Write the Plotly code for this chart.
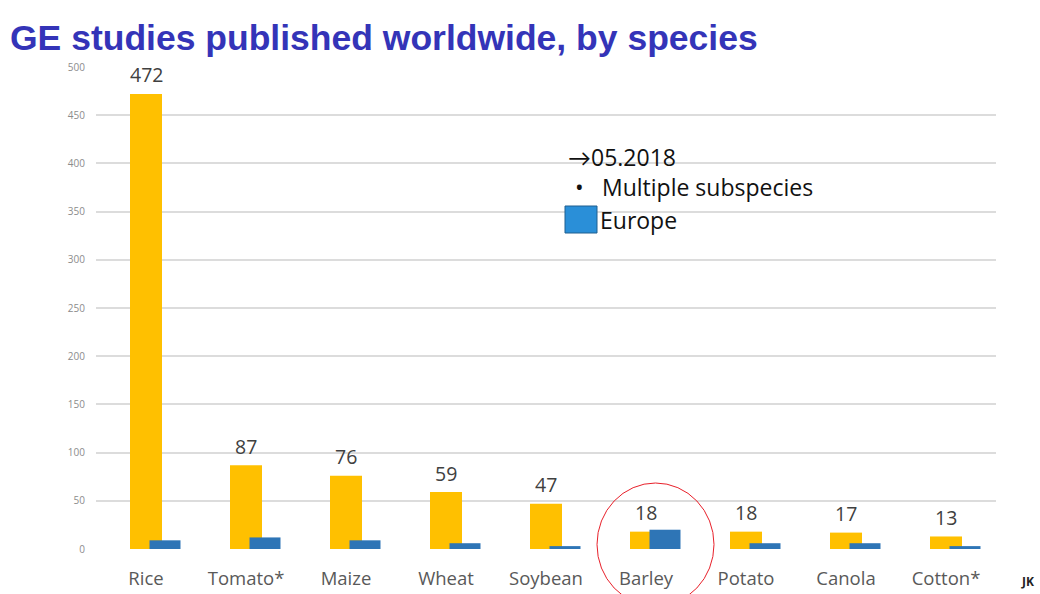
import plotly.graph_objects as go

# Genome-editing studies per crop species (worldwide vs. Europe)
species = ["Rice", "Tomato*", "Maize", "Wheat", "Soybean", "Barley", "Potato", "Canola", "Cotton*"]
worldwide = [472, 87, 76, 59, 47, 18, 18, 17, 13]
europe = [9, 12, 9, 6, 3, 20, 6, 6, 3]
y_ticks = [0, 50, 100, 150, 200, 250, 300, 350, 400, 450, 500]

ORANGE = "#FFC000"
BLUE = "#2E75B6"
LABEL_FONT = "Open Sans, Lato, sans-serif"

fig = go.Figure()
fig.add_trace(go.Bar(
    x=species, y=worldwide, name="Worldwide",
    marker=dict(color=ORANGE, line=dict(width=0)),
    width=0.32, offset=-0.16, hoverinfo="x+y",
))
fig.add_trace(go.Bar(
    x=species, y=europe, name="Europe",
    marker=dict(color=BLUE, line=dict(width=0)),
    width=0.31, offset=0.035, hoverinfo="x+y",
))

# value labels above the worldwide bars
for sp, v in zip(species, worldwide):
    fig.add_annotation(
        x=sp, y=v, text=str(v), showarrow=False,
        xref="x", yref="y", yanchor="middle", yshift=19,
        font=dict(family=LABEL_FONT, size=19.5, color="#404040"),
    )

# key text block
key_font = dict(family=LABEL_FONT, size=23, color="#111111")
fig.add_annotation(x=566, y=157, xref="paper", yref="paper", text="\u219205.2018",
                   showarrow=False, xanchor="left", yanchor="middle", font=key_font)
fig.add_annotation(x=573, y=187, xref="paper", yref="paper", text="\u2022",
                   showarrow=False, xanchor="left", yanchor="middle", font=key_font)
fig.add_annotation(x=600, y=187, xref="paper", yref="paper", text="Multiple subspecies",
                   showarrow=False, xanchor="left", yanchor="middle", font=key_font)
fig.add_annotation(x=598, y=220, xref="paper", yref="paper", text="Europe",
                   showarrow=False, xanchor="left", yanchor="middle", font=key_font)

fig.add_annotation(x=1027, y=581, xref="paper", yref="paper", text="<b>JK</b>",
                   showarrow=False, xanchor="center", yanchor="middle",
                   font=dict(family=LABEL_FONT, size=12, color="#222222"))

# convert pixel positions to paper coordinates
W, H = 1040, 594
ML, MR, MT, MB = 96, 44, 67, 45
PW, PH = W - ML - MR, H - MT - MB


def px(x):
    return (x - ML) / PW


def py(y):
    return 1 - (y - MT) / PH


for ann in fig.layout.annotations:
    if ann.xref == "paper":
        ann.x = px(ann.x)
        ann.y = py(ann.y)

# blue key swatch
fig.add_shape(type="rect", xref="paper", yref="paper",
              x0=px(565), x1=px(597), y0=py(233), y1=py(206),
              fillcolor="#2A8FD8", line=dict(color="#1F5F8F", width=1))

# red circle highlighting barley
fig.add_shape(type="circle", xref="paper", yref="paper",
              x0=px(597), x1=px(714), y0=py(606), y1=py(483),
              line=dict(color="#E8202A", width=1), fillcolor="rgba(0,0,0,0)")

fig.update_layout(
    width=W, height=H,
    margin=dict(l=ML, r=MR, t=MT, b=MB, autoexpand=False),
    paper_bgcolor="white", plot_bgcolor="white",
    barmode="overlay", showlegend=False,
    title=dict(
        text="<b>GE studies published worldwide, by species</b>",
        x=10 / W, xanchor="left", y=1 - 38 / H, yanchor="middle",
        font=dict(family="Liberation Sans, Arial, sans-serif", size=35.5, color="#3434B8"),
    ),
)
fig.update_xaxes(
    type="category", range=[-0.5, 8.5], automargin=False,
    showline=False, showgrid=False, zeroline=False, ticks="",
    tickfont=dict(family=LABEL_FONT, size=18.5, color="#595959"),
    ticklabelstandoff=16,
)
fig.update_yaxes(
    range=[0, 500], tickvals=y_ticks, automargin=False,
    showgrid=True, gridcolor="#DCDCDC", gridwidth=2,
    zeroline=False, showline=False, ticks="",
    tickfont=dict(family=LABEL_FONT, size=10, color="#8C8C8C"),
    ticklabelstandoff=10,
)

fig.write_html("out.html")
